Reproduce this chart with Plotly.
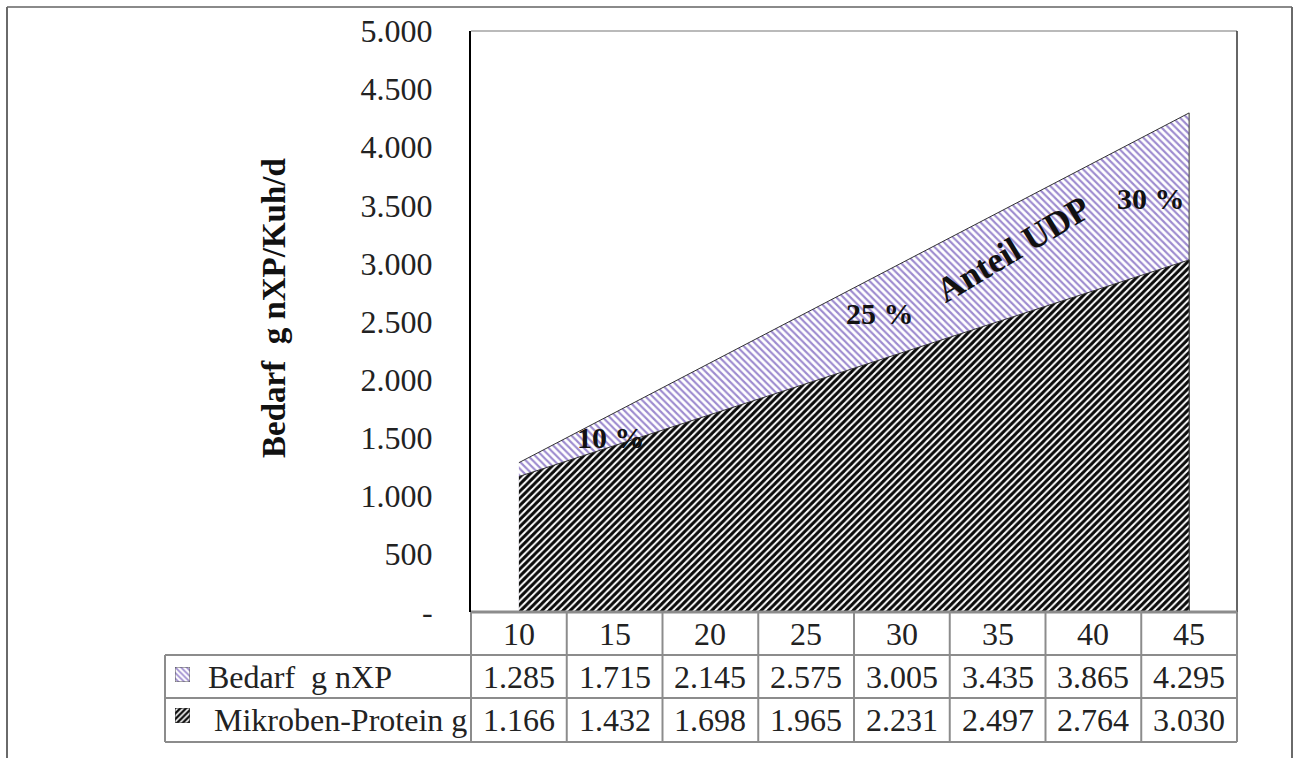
import plotly.graph_objects as go

# ---------------- data ----------------
categories = [10, 15, 20, 25, 30, 35, 40, 45]
bedarf = [1285, 1715, 2145, 2575, 3005, 3435, 3865, 4295]
mikroben = [1166, 1432, 1698, 1965, 2231, 2497, 2764, 3030]
series_names = ["Bedarf\u00a0 g nXP", "\u00a0Mikroben-Protein g"]
y_ticks = [0, 500, 1000, 1500, 2000, 2500, 3000, 3500, 4000, 4500, 5000]
udp_labels = ["10 %", "25 %", "Anteil UDP", "30 %"]


def de_fmt(v):
    return "-" if v == 0 else f"{v:,}".replace(",", ".")


# ---------------- geometry (pixels) ----------------
W, H = 1293, 758
PX0, PX1 = 471, 1237      # plot left / right
PY0, PY1 = 31, 612        # plot top / bottom
ROWS = [612, 655, 698, 742]
LABEL_X0 = 165


def px(x):
    return x / W


def py(y):
    return 1 - y / H


FONT = "Liberation Serif, Times New Roman, serif"
GRID = "#8c8c8c"
TXT = "#222222"
PURPLE = "#9d8bcf"

cats = [str(c) for c in categories]
idx = list(range(len(cats)))

fig = go.Figure()

# Bedarf area (purple backslash hatch)
fig.add_trace(go.Scatter(
    x=idx + idx[::-1], y=bedarf + [0] * len(bedarf),
    fill="toself", mode="lines",
    line=dict(color="#333333", width=1),
    fillcolor="white",
    fillpattern=dict(shape="\\", fgcolor=PURPLE, bgcolor="white",
                     size=5, solidity=0.42),
    showlegend=False, hoverinfo="skip",
))
# Mikroben area (black slash hatch)
fig.add_trace(go.Scatter(
    x=idx + idx[::-1], y=mikroben + [0] * len(mikroben),
    fill="toself", mode="lines",
    line=dict(color="#333333", width=1),
    fillcolor="white",
    fillpattern=dict(shape="/", fgcolor="#0a0a0a", bgcolor="white",
                     size=5, solidity=0.6),
    showlegend=False, hoverinfo="skip",
))

# legend swatches in table
fig.add_trace(go.Bar(
    x=[0], y=[1], width=1, xaxis="x2", yaxis="y2",
    marker=dict(color="white", line=dict(color="#555555", width=1),
                pattern=dict(shape="\\", fgcolor=PURPLE, bgcolor="white",
                             size=4, solidity=0.45)),
    showlegend=False, hoverinfo="skip",
))
fig.add_trace(go.Bar(
    x=[0], y=[1], width=1, xaxis="x3", yaxis="y3",
    marker=dict(color="white", line=dict(color="#333333", width=1),
                pattern=dict(shape="/", fgcolor="#0a0a0a", bgcolor="white",
                             size=4, solidity=0.6)),
    showlegend=False, hoverinfo="skip",
))

shapes = []


def hline(y, x0, x1, color=GRID, w=2):
    shapes.append(dict(type="line", xref="paper", yref="paper",
                       x0=px(x0), x1=px(x1), y0=py(y), y1=py(y),
                       line=dict(color=color, width=w)))


def vline(x, y0, y1, color=GRID, w=2):
    shapes.append(dict(type="line", xref="paper", yref="paper",
                       x0=px(x), x1=px(x), y0=py(y0), y1=py(y1),
                       line=dict(color=color, width=w)))


# outer frame
hline(7, 7, 1292, "#8a8a8a", 2)
vline(7, 7, H, "#6a6a6a", 2)
vline(1292, 7, H, "#6a6a6a", 2)
# plot frame top & right
hline(PY0, PX0, PX1, "#777777", 1.2)
vline(PX1, PY0, PY1, "#333333", 1.5)
# table
hline(ROWS[0], PX0, PX1, GRID, 3)
for r in ROWS[1:]:
    hline(r, LABEL_X0, PX1)
vline(LABEL_X0, ROWS[1], ROWS[3])
colw = (PX1 - PX0) / len(cats)
for k in range(len(cats) + 1):
    vline(PX0 + k * colw, ROWS[0], ROWS[3])

annotations = []


def note(x, y, text, size, xanchor="center", angle=0, color=TXT):
    annotations.append(dict(x=px(x), y=py(y), xref="paper", yref="paper",
                            xanchor=xanchor, yanchor="middle",
                            text=text, textangle=angle, showarrow=False,
                            font=dict(family=FONT, size=size, color=color)))


row_c = [(ROWS[i] + ROWS[i + 1]) / 2 for i in range(3)]
TS = 32
for i, c in enumerate(cats):
    xc = PX0 + (i + 0.5) * colw
    note(xc, row_c[0], c, TS)
    note(xc, row_c[1], de_fmt(bedarf[i]), TS)
    note(xc, row_c[2], de_fmt(mikroben[i]), TS)
note(206, row_c[1], series_names[0], TS, xanchor="left")
note(204, row_c[2], series_names[1], TS, xanchor="left")

# y title
note(274, 308, "<b>Bedarf\u00a0 g nXP/Kuh/d</b>", 33, angle=-90, color="#111")

# UDP labels
udp_pos = [(611, 437, 0, 30), (880, 314, 0, 30), (1013, 249, -31, 35),
           (1151, 198, 0, 30)]
for t, (x, y, a, s) in zip(udp_labels, udp_pos):
    note(x, y, f"<b>{t}</b>", s, angle=a, color="#111")

fig.update_layout(
    width=W, height=H,
    margin=dict(l=0, r=0, t=0, b=0, pad=0),
    paper_bgcolor="white", plot_bgcolor="white",
    template="none",
    showlegend=False,
    xaxis=dict(domain=[px(PX0), px(PX1)], range=[-0.5, len(cats) - 0.5],
               showticklabels=False, showgrid=False, zeroline=False,
               showline=False, ticks="", automargin=False, fixedrange=True),
    yaxis=dict(domain=[py(PY1), py(PY0)], range=[0, 5000],
               tickvals=y_ticks, ticktext=[de_fmt(v) for v in y_ticks],
               showgrid=False, zeroline=False, showline=True,
               linecolor="black", linewidth=2, ticks="",
               ticklabelstandoff=30, automargin=False,
               tickfont=dict(family=FONT, size=32, color=TXT)),
    xaxis2=dict(domain=[px(175), px(190)], range=[-0.5, 0.5], visible=False,
                anchor="y2"),
    yaxis2=dict(domain=[py(682), py(667)], range=[0, 1], visible=False,
                anchor="x2"),
    xaxis3=dict(domain=[px(175), px(190)], range=[-0.5, 0.5], visible=False,
                anchor="y3"),
    yaxis3=dict(domain=[py(723), py(708)], range=[0, 1], visible=False,
                anchor="x3"),
    shapes=shapes,
    annotations=annotations,
)

fig.write_html(
    "out.html",
    config={"displayModeBar": False},
    post_script="document.body.style.margin='0';"
                "document.body.style.overflow='hidden';",
)
